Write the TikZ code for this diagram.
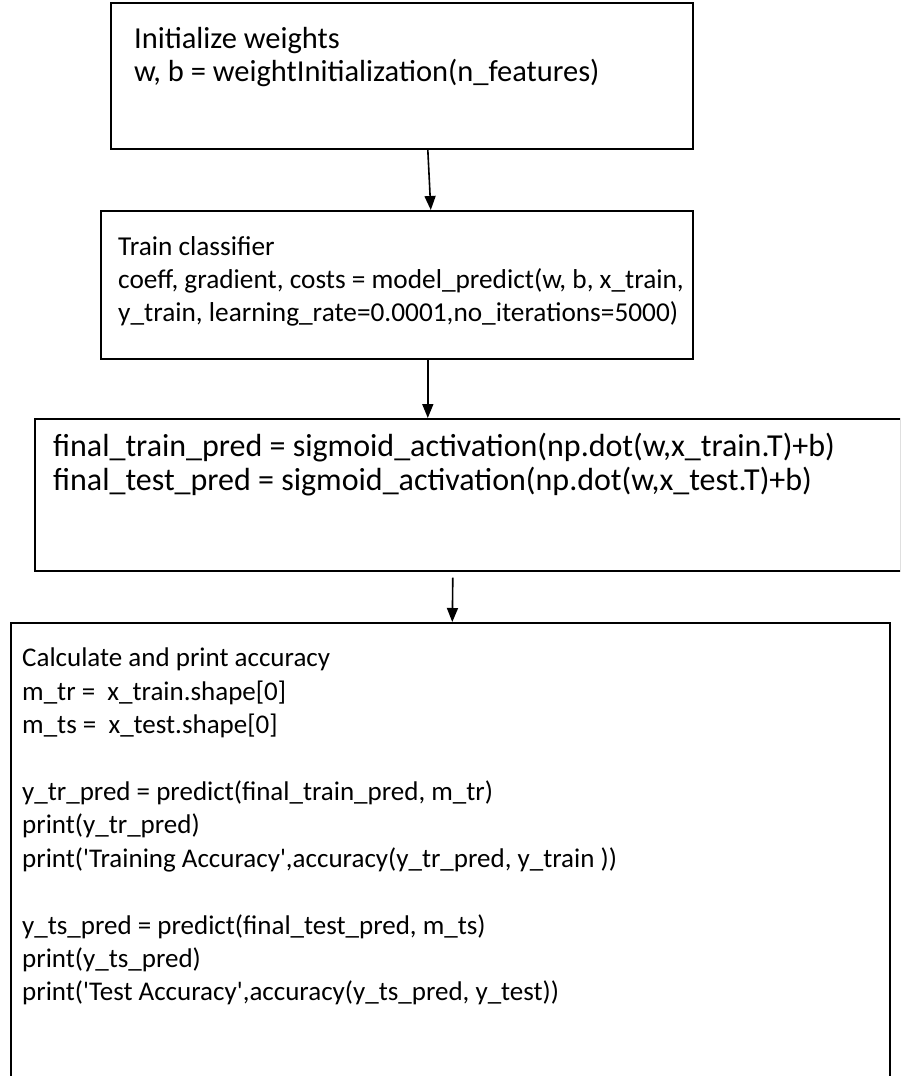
\documentclass[tikz,border=0pt]{standalone}
\usepackage{fontspec}
\setmainfont{Carlito}
\usetikzlibrary{arrows.meta}
\begin{document}
\begin{tikzpicture}[x=1pt,y=-1pt,
  box/.style={draw,line width=1.6pt,rectangle,inner sep=0pt,anchor=north west},
  txt/.style={anchor=north west,inner sep=0pt,align=left},
  arr/.style={line width=1.6pt,-{Triangle[length=14pt,width=11pt]}}]
\useasboundingbox (0,0) rectangle (900,1076);
\clip (0,0) rectangle (900,1076);
\node[box,minimum width=582pt,minimum height=146pt] (b1) at (110,2) {};
\node[box,minimum width=592pt,minimum height=148pt] (b2) at (100,210) {};
\node[box,minimum width=866pt,minimum height=152pt] (b3) at (34,418) {};
\node[box,minimum width=879pt,minimum height=480pt] (b4) at (10,622) {};
\node[txt,font=\fontsize{30.5}{33.4}\selectfont] (t1) at (134,27) {Initialize weights\\w, b = weightInitialization(n\_features)};
\node[txt,font=\fontsize{27.3}{33.4}\selectfont] (t2) at (118,236) {Train classifier\\coeff, gradient, costs = model\_predict(w, b, x\_train,\\y\_train, learning\_rate=0.0001,no\_iterations=5000)};
\node[txt,font=\fontsize{32}{33.4}\selectfont] (t3) at (53,433) {final\_train\_pred = sigmoid\_activation(np.dot(w,x\_train.T)+b)\\final\_test\_pred = sigmoid\_activation(np.dot(w,x\_test.T)+b)};
\node[txt,font=\fontsize{27}{33.4}\selectfont] (t4) at (22,648) {Calculate and print accuracy\\m\_tr = ~x\_train.shape[0]\\m\_ts = ~x\_test.shape[0]\\[33.4pt]y\_tr\_pred = predict(final\_train\_pred, m\_tr)\\print(y\_tr\_pred)\\print(\textquotesingle Training Accuracy\textquotesingle,accuracy(y\_tr\_pred, y\_train ))\\[33.4pt]y\_ts\_pred = predict(final\_test\_pred, m\_ts)\\print(y\_ts\_pred)\\print(\textquotesingle Test Accuracy\textquotesingle,accuracy(y\_ts\_pred, y\_test))};
\draw[arr] ([xshift=26pt]b1.south) -- ([xshift=34pt]b2.north);
\draw[arr] ([xshift=31pt]b2.south) -- ([xshift=-40pt]b3.north);
\draw[arr] ([xshift=-15pt,yshift=-6pt]b3.south) -- ([xshift=2pt]b4.north);
\end{tikzpicture}
\end{document}
